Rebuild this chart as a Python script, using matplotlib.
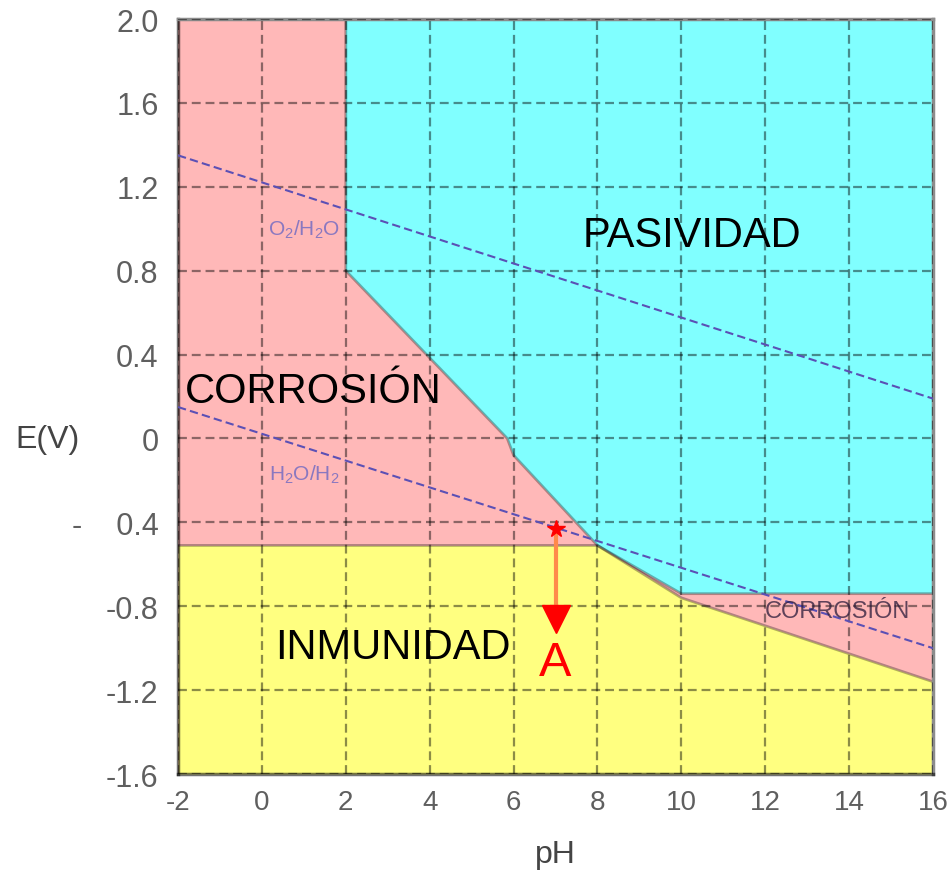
import matplotlib
matplotlib.use("Agg")
import matplotlib.pyplot as plt

plt.rcParams['font.family'] = ['Liberation Sans', 'DejaVu Sans']
plt.rcParams['mathtext.default'] = 'regular'
plt.rcParams['axes.unicode_minus'] = False

# ejes
ph_lim = [-2, 16]
e_lim = [-1.6, 2.0]
ph_ticks = [-2, 0, 2, 4, 6, 8, 10, 12, 14, 16]
e_ticks = [-1.6, -1.2, -0.8, -0.4, 0.0, 0.4, 0.8, 1.2, 1.6, 2.0]
e_tick_labels = ['-1.6', '-1.2', '-0.8', '-    0.4', '0', '0.4', '0.8', '1.2', '1.6', '2.0']

# fronteras de las zonas
pas_ph = [2, 2, 5.85, 6.0, 8.0, 10.0, 16]
pas_e = [2.0, 0.8, 0.0, -0.08, -0.51, -0.74, -0.74]
imm_ph = [-2, 8, 10, 16]
imm_e = [-0.51, -0.51, -0.76, -1.16]

# lineas del agua
o2_ph = [-2, 16]
o2_e = [1.35, 0.19]
h2_ph = [-2, 16]
h2_e = [0.15, -1.0]

# punto A
a_ph = 7.0
a_e_start = -0.43
a_e_end = -0.86

PINK = '#ffb8b8'
CYAN = '#80ffff'
YELLOW = '#ffff80'

fig = plt.figure(figsize=(9.51, 8.79), dpi=100)
ax = fig.add_axes([0.1872, 0.1183, 0.7939, 0.8589])
ax.set_facecolor(PINK)
ax.set_xlim(ph_lim)
ax.set_ylim(e_lim)

# zonas
ax.fill(pas_ph + [16], pas_e + [2.0], color=CYAN, lw=0, zorder=1)
ax.fill_between(imm_ph, e_lim[0], imm_e, color=YELLOW, lw=0, zorder=1)
ax.plot(pas_ph, pas_e, color='black', alpha=0.3, lw=2, zorder=2)
ax.plot(imm_ph, imm_e, color='black', alpha=0.3, lw=2, zorder=2)

# rejilla
ax.set_xticks(ph_ticks)
ax.set_yticks(e_ticks)
ax.set_yticklabels(e_tick_labels)
ax.grid(True, color='black', alpha=0.45, lw=1.6, linestyle=(0, (4, 2.2)), zorder=3)
ax.set_axisbelow(False)
ax.tick_params(length=0, colors='#5f5f5f')
ax.tick_params(axis='y', labelsize=22, pad=14)
ax.tick_params(axis='x', labelsize=20, pad=11)

for side in ['left', 'bottom']:
    ax.spines[side].set_color((0, 0, 0, 0.55))
    ax.spines[side].set_linewidth(2.5)
for side in ['top', 'right']:
    ax.spines[side].set_color('#8c8c8c')
    ax.spines[side].set_linewidth(2.5)

# O2/H2O y H2O/H2
ax.plot(o2_ph, o2_e, color='#5b50b5', lw=1.5, linestyle=(0, (4, 2)), zorder=4)
ax.plot(h2_ph, h2_e, color='#5b50b5', lw=1.5, linestyle=(0, (4, 2)), zorder=4)
ax.text(1.0, 1.0, r'O$_2$/H$_2$O', color='#8a78c0', fontsize=15, ha='center', va='center', zorder=5)
ax.text(1.0, -0.17, r'H$_2$O/H$_2$', color='#8a78c0', fontsize=15, ha='center', va='center', zorder=5)

# etiquetas de zonas
ax.text(10.26, 0.97, 'PASIVIDAD', fontsize=30, ha='center', va='center', zorder=5)
ax.text(1.22, 0.226, 'CORROSIÓN', fontsize=30, ha='center', va='center', zorder=5)
ax.text(3.13, -0.995, 'INMUNIDAD', fontsize=30, ha='center', va='center', zorder=5)
ax.text(13.71, -0.823, 'CORROSIÓN', fontsize=17, color='#2a1a3a', alpha=0.75,
        ha='center', va='center', zorder=5)

# flecha A
ax.plot([a_ph, a_ph], [a_e_start, a_e_end + 0.04], color='#ff8a4a', lw=3, zorder=6)
ax.plot(a_ph, a_e_end, marker='v', ms=20, color='red', mec='red', zorder=7)
ax.plot(a_ph, a_e_start, marker='*', ms=13, color='red', mec='red', zorder=7)
ax.text(a_ph, -1.066, 'A', color='red', fontsize=35, ha='center', va='center', zorder=7)

ax.set_xlabel('pH', fontsize=23, color='#444444', va='center')
ax.xaxis.set_label_coords(0.5, -0.106)
ax.set_ylabel('E(V)', fontsize=23, color='#444444', rotation=0, va='center', ha='center')
ax.yaxis.set_label_coords(-0.1735, 0.4437)

fig.savefig('out.png', dpi=100)
plt.close(fig)
